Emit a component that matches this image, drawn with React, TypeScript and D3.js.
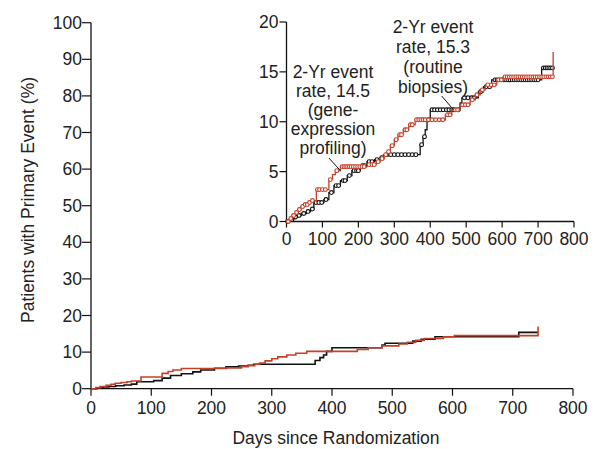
import React from "react";
import * as d3 from "d3";

// Gene-expression profiling (red)
const redDays = [0, 8, 15, 25, 33, 40, 50, 60, 67, 83, 118, 128, 136, 150, 225, 250, 261, 272, 280, 289, 300, 310, 325, 340, 358, 442, 460, 483, 511, 525, 539, 553, 585, 603, 742];
const redPct = [0, 0.3, 0.6, 0.9, 1.2, 1.5, 1.7, 1.9, 2.1, 3.2, 4.2, 4.7, 5.1, 5.5, 5.7, 6.0, 6.3, 6.7, 7.0, 7.6, 8.2, 8.7, 9.2, 9.7, 10.2, 10.7, 11.2, 11.7, 12.2, 12.7, 13.2, 13.7, 14.2, 14.5, 17.0];
// Routine biopsies (black)
const blackDays = [0, 10, 20, 30, 41, 55, 67, 76, 104, 118, 132, 150, 169, 182, 205, 224, 245, 261, 270, 372, 380, 386, 391, 400, 483, 488, 534, 548, 571, 710, 742];
const blackPct = [0, 0.2, 0.45, 0.6, 0.8, 1.0, 1.25, 1.9, 2.2, 2.9, 3.6, 4.1, 4.6, 5.1, 5.6, 6.0, 6.2, 6.4, 6.7, 7.7, 8.5, 9.2, 10.2, 11.2, 11.9, 12.4, 13.0, 13.5, 14.2, 15.4, 15.4];

// Censoring marks (inset)
const redCensor = [5, 12, 20, 28, 36, 45, 52, 58, 64, 72, 86, 92, 100, 108, 122, 140, 155, 160, 165, 170, 175, 180, 186, 192, 198, 204, 210, 216, 230, 238, 244, 255, 266, 276, 284, 294, 305, 315, 320, 330, 335, 345, 350, 362, 368, 374, 380, 386, 395, 405, 415, 425, 435, 448, 455, 470, 476, 490, 498, 505, 517, 530, 545, 560, 570, 578, 590, 598, 608, 614, 620, 626, 632, 638, 644, 650, 656, 662, 668, 674, 680, 686, 692, 698, 704, 710, 716, 722, 728, 734, 740];
const blackCensor = [3, 15, 25, 35, 48, 60, 72, 82, 90, 98, 110, 125, 138, 145, 158, 163, 175, 188, 195, 200, 212, 218, 230, 238, 252, 265, 280, 290, 300, 310, 320, 330, 340, 350, 360, 376, 384, 395, 405, 412, 420, 428, 436, 445, 452, 460, 466, 478, 495, 505, 515, 522, 540, 555, 565, 580, 586, 592, 598, 604, 610, 616, 622, 628, 634, 640, 646, 652, 658, 664, 670, 676, 682, 688, 694, 700, 715, 720, 725, 730, 735, 740];

const mainYTicks = [0, 10, 20, 30, 40, 50, 60, 70, 80, 90, 100];
const xTicks = [0, 100, 200, 300, 400, 500, 600, 700, 800];
const insetYTicks = [0, 5, 10, 15, 20];

const annot1 = ["2-Yr event", "rate, 14.5", "(gene-", "expression", "profiling)"];
const annot2 = ["2-Yr event", "rate, 15.3", "(routine", "biopsies)"];

const RED = "#c3402b";
const BLACK = "#111";
const FONT = "'Liberation Sans', Arial, sans-serif";
const TXT = "#222";

function stepAt(days: number[], pct: number[], d: number) {
  const i = d3.bisectRight(days, d) - 1;
  return pct[Math.max(0, i)];
}

export default function App() {
  const W = 598, H = 449;
  const x = d3.scaleLinear().domain([0, 800]).range([91, 573]);
  const y = d3.scaleLinear().domain([0, 100]).range([388.7, 22.7]);
  const xi = d3.scaleLinear().domain([0, 800]).range([286.5, 574]);
  const yi = d3.scaleLinear().domain([0, 20]).range([221.5, 22]);

  const red = redDays.map((d, i) => [d, redPct[i]] as [number, number]);
  const black = blackDays.map((d, i) => [d, blackPct[i]] as [number, number]);

  const mainLine = d3.line<[number, number]>().x(d => x(d[0])).y(d => y(d[1])).curve(d3.curveStepAfter);
  const insetLine = d3.line<[number, number]>().x(d => xi(d[0])).y(d => yi(d[1])).curve(d3.curveStepAfter);

  const fs = 17.5;

  return (
    <svg width={W} height={H} style={{ position: "absolute", left: 0, top: 0, background: "#fff" }} fontFamily={FONT}>
      {/* Main axes */}
      <line x1={x(0)} x2={x(0)} y1={y(100)} y2={y(0)} stroke={BLACK} strokeWidth={1.3} />
      <line x1={x(0)} x2={x(800)} y1={y(0)} y2={y(0)} stroke={BLACK} strokeWidth={1.3} />
      {mainYTicks.map(t => (
        <g key={"my" + t}>
          <line x1={x(0) - 9} x2={x(0)} y1={y(t)} y2={y(t)} stroke={BLACK} strokeWidth={1.2} />
          <text x={x(0) - 9} y={y(t) + 6} textAnchor="end" fontSize={fs} fill={TXT}>{t}</text>
        </g>
      ))}
      {xTicks.map(t => (
        <g key={"mx" + t}>
          <line x1={x(t)} x2={x(t)} y1={y(0)} y2={y(0) + 7} stroke={BLACK} strokeWidth={1.2} />
          <text x={x(t)} y={414} textAnchor="middle" fontSize={fs} fill={TXT}>{t}</text>
        </g>
      ))}
      <text x={336} y={444} textAnchor="middle" fontSize={fs} fill={TXT}>Days since Randomization</text>
      <text transform={`translate(34,${200}) rotate(-90)`} textAnchor="middle" fontSize={fs} fill={TXT}>Patients with Primary Event (%)</text>

      <path d={mainLine(black) || ""} fill="none" stroke={BLACK} strokeWidth={1.6} />
      <path d={mainLine(red) || ""} fill="none" stroke={RED} strokeWidth={1.6} />

      {/* Inset axes */}
      <line x1={xi(0)} x2={xi(0)} y1={yi(20)} y2={yi(0)} stroke={BLACK} strokeWidth={1.3} />
      <line x1={xi(0)} x2={xi(800)} y1={yi(0)} y2={yi(0)} stroke={BLACK} strokeWidth={1.3} />
      {insetYTicks.map(t => (
        <g key={"iy" + t}>
          <line x1={xi(0) - 7} x2={xi(0)} y1={yi(t)} y2={yi(t)} stroke={BLACK} strokeWidth={1.2} />
          <text x={xi(0) - 8} y={yi(t) + 6} textAnchor="end" fontSize={fs} fill={TXT}>{t}</text>
        </g>
      ))}
      {xTicks.map(t => (
        <g key={"ix" + t}>
          <line x1={xi(t)} x2={xi(t)} y1={yi(0)} y2={yi(0) + 6} stroke={BLACK} strokeWidth={1.2} />
          <text x={xi(t)} y={yi(0) + 23} textAnchor="middle" fontSize={fs} fill={TXT}>{t}</text>
        </g>
      ))}

      <path d={insetLine(black) || ""} fill="none" stroke={BLACK} strokeWidth={1.3} />
      {blackCensor.map((d, i) => (
        <circle key={"bc" + i} cx={xi(d)} cy={yi(stepAt(blackDays, blackPct, d))} r={1.9} fill="#fff" stroke={BLACK} strokeWidth={1.1} />
      ))}
      <path d={insetLine(red) || ""} fill="none" stroke={RED} strokeWidth={1.3} />
      {redCensor.map((d, i) => (
        <circle key={"rc" + i} cx={xi(d)} cy={yi(stepAt(redDays, redPct, d))} r={1.9} fill="#fff" stroke={RED} strokeWidth={1.1} />
      ))}

      {/* Annotations */}
      {annot1.map((s, i) => (
        <text key={"a1" + i} x={333} y={78 + i * 19} textAnchor="middle" fontSize={fs} fill={TXT}>{s}</text>
      ))}
      <line x1={xi(118)} x2={xi(150)} y1={158} y2={yi(5.1)} stroke={BLACK} strokeWidth={1} />
      {annot2.map((s, i) => (
        <text key={"a2" + i} x={433} y={33 + i * 20} textAnchor="middle" fontSize={fs} fill={TXT}>{s}</text>
      ))}
      <line x1={441.7} x2={xi(460)} y1={96} y2={yi(11.4)} stroke={BLACK} strokeWidth={1} />
    </svg>
  );
}
